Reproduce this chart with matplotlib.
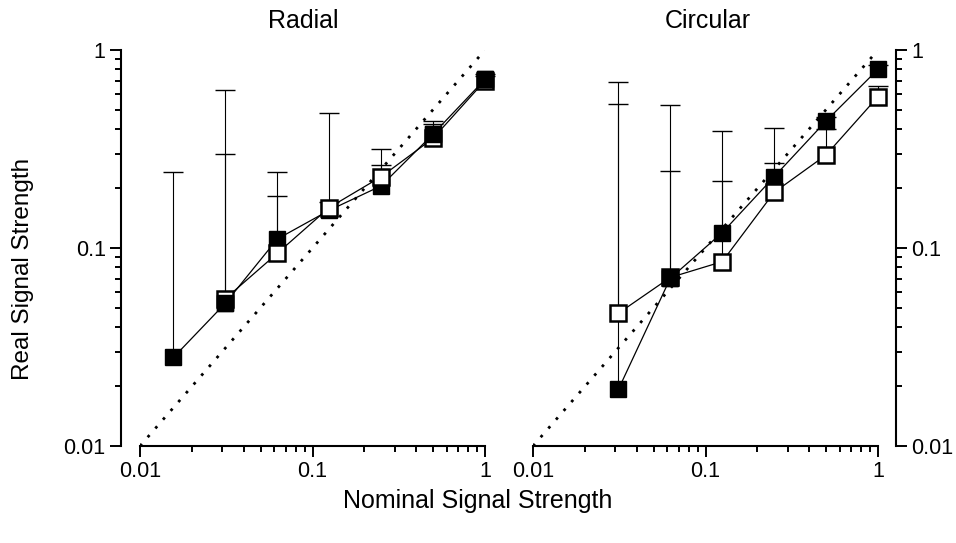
import numpy as np
import matplotlib
matplotlib.use("Agg")
import matplotlib.pyplot as plt
from matplotlib.ticker import LogLocator, FixedLocator, NullFormatter

plt.rcParams['font.family'] = ['Liberation Sans', 'DejaVu Sans']

# ---------------- data ----------------
radial_x = [0.015625, 0.03125, 0.0625, 0.125, 0.25, 0.5, 1.0]
radial_filled = [0.028, 0.0526, 0.111, 0.155, 0.206, 0.376, 0.711]
radial_filled_upper = [0.243, 0.628, 0.243, 0.479, 0.317, 0.438, 0.76]
radial_open = [np.nan, 0.0555, 0.094, 0.16, 0.229, 0.358, 0.70]
radial_open_upper = [np.nan, 0.298, 0.184, 0.17, 0.262, 0.425, 0.74]

circ_x = [0.03125, 0.0625, 0.125, 0.25, 0.5, 1.0]
circ_filled = [0.0193, 0.0703, 0.1195, 0.229, 0.438, 0.799]
circ_filled_upper = [0.532, 0.527, 0.390, 0.405, 0.46, 0.84]
circ_open = [0.0468, 0.071, 0.0853, 0.191, 0.295, 0.581]
circ_open_upper = [0.689, 0.246, 0.217, 0.270, 0.40, 0.658]

identity = [0.01, 1.0]
tick_vals = [0.01, 0.1, 1]
tick_labels = ["0.01", "0.1", "1"]
titles = ["Radial", "Circular"]
xlabel = "Nominal Signal Strength"
ylabel = "Real Signal Strength"

# style: indices where the filled marker is drawn above the open one
radial_filled_front = [1, 5, 6]
circ_filled_front = [1]

# ---------------- figure ----------------
fig = plt.figure(figsize=(9.56, 5.43), dpi=100)
W, H = 956, 543
def ax_rect(x0, x1, ytop, ybot):
    return [x0 / W, 1 - ybot / H, (x1 - x0) / W, (ybot - ytop) / H]

axL = fig.add_axes(ax_rect(140, 485, 50, 446))
axR = fig.add_axes(ax_rect(533, 878, 50, 446))

def errbars(ax, x, y, up):
    y = np.array(y); up = np.array(up)
    eb = ax.errorbar(x, y, yerr=[np.zeros_like(y), up - y], fmt='none',
                     ecolor='black', elinewidth=0.8, capsize=7, capthick=1.0,
                     zorder=3)
    caps = eb[1]
    if len(caps) >= 1:
        caps[0].set_visible(False)   # lower cap (sits on the point)
    for c in caps:
        c.set_clip_on(False)
    for b in eb[2]:
        b.set_clip_on(False)

def filled_markers(ax, x, y, z):
    ax.plot(x, y, linestyle='none', marker='s', markersize=12,
            markerfacecolor='black', markeredgecolor='black', zorder=z,
            clip_on=False)

def draw_panel(ax, x, filled, fup, opn, oup, front):
    ax.plot(identity, identity, color='black', lw=2.0, linestyle=(0, (1, 3.2)),
            dash_capstyle='butt', zorder=2)
    errbars(ax, x, filled, fup)
    errbars(ax, x, opn, oup)
    ax.plot(x, filled, color='black', lw=0.9, zorder=3.5, clip_on=False)
    filled_markers(ax, x, filled, 4)
    ax.plot(x, opn, color='black', lw=0.9, marker='s', markersize=11,
            markerfacecolor='white', markeredgecolor='black', markeredgewidth=1.8,
            zorder=5, clip_on=False)
    filled_markers(ax, [x[i] for i in front], [filled[i] for i in front], 6)

draw_panel(axL, radial_x, radial_filled, radial_filled_upper, radial_open,
           radial_open_upper, radial_filled_front)
draw_panel(axR, circ_x, circ_filled, circ_filled_upper, circ_open,
           circ_open_upper, circ_filled_front)

for ax in (axL, axR):
    ax.set_xscale('log'); ax.set_yscale('log')
    ax.set_xlim(0.01, 1); ax.set_ylim(0.01, 1)
    ax.spines['top'].set_visible(False)
    ax.xaxis.set_major_locator(FixedLocator(tick_vals))
    ax.set_xticklabels(tick_labels)
    ax.xaxis.set_minor_locator(LogLocator(base=10, subs=np.arange(2, 10)))
    ax.xaxis.set_minor_formatter(NullFormatter())
    ax.yaxis.set_major_locator(FixedLocator(tick_vals))
    ax.set_yticklabels(tick_labels)
    ax.yaxis.set_minor_locator(LogLocator(base=10, subs=np.arange(2, 10)))
    ax.yaxis.set_minor_formatter(NullFormatter())
    ax.tick_params(which='major', direction='out', length=8, width=1.4,
                   labelsize=15.5, pad=3)
    ax.tick_params(which='minor', direction='out', length=4.5, width=1.4)
    for s in ax.spines.values():
        s.set_linewidth(1.5)
    ax.patch.set_alpha(0)

axL.spines['right'].set_visible(False)
axL.spines['left'].set_position(('outward', 13.7))

axR.spines['left'].set_visible(False)
axR.spines['right'].set_position(('outward', 13))
axR.yaxis.tick_right()
axR.yaxis.set_label_position('right')

axL.text(0.472, 1.0 + 22 / 396, titles[0], transform=axL.transAxes, ha='center',
         va='baseline', fontsize=18)
axR.text(0.507, 1.0 + 22 / 396, titles[1], transform=axR.transAxes, ha='center',
         va='baseline', fontsize=18)

fig.text(0.5, 1 - 501 / H, xlabel, ha='center', va='center', fontsize=18)
fig.text(23 / W, 0.505, ylabel, ha='center', va='center', rotation=90, fontsize=17.5)

fig.savefig("out.png", dpi=100)
